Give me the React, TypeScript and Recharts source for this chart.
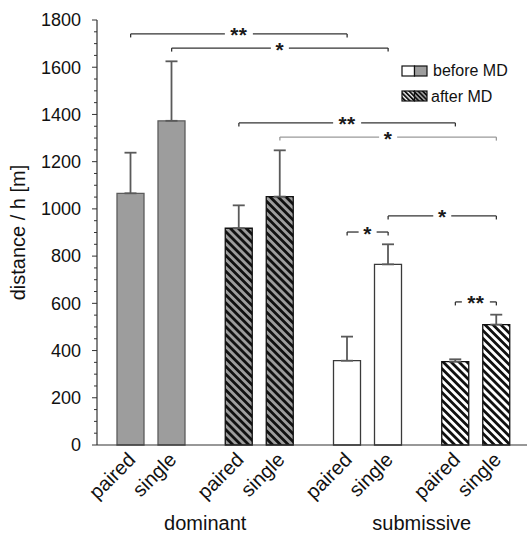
import React from 'react';
import { BarChart, Bar, XAxis, YAxis, Cell, ErrorBar, ReferenceLine, ReferenceDot } from 'recharts';

// ---------- data ----------
const categories = ['dominant / before MD', 'dominant / after MD', 'submissive / before MD', 'submissive / after MD'];
const groupLabels = ['dominant', 'submissive'];
const barLabels = ['paired', 'single'];
const pairedValues = [1066, 918, 357, 353];
const pairedErrors = [172, 97, 102, 10];
const singleValues = [1373, 1052, 765, 510];
const singleErrors = [252, 196, 85, 42];
const legendLabels = ['before MD', 'after MD'];
const yMajorTicks = [0, 200, 400, 600, 800, 1000, 1200, 1400, 1600, 1800];
const yAxisMax = 1800;
const yMinorStep = 50;
const yAxisTitle = 'distance / h [m]';

// significance brackets: [category, bar] -> [category, bar]
const brackets = [
  { from: [0, 'paired'], to: [2, 'paired'], y: 1741, label: '**', light: false },
  { from: [0, 'single'], to: [2, 'single'], y: 1681, label: '*', light: false },
  { from: [1, 'paired'], to: [3, 'paired'], y: 1364, label: '**', light: false },
  { from: [1, 'single'], to: [3, 'single'], y: 1304, label: '*', light: true },
  { from: [2, 'paired'], to: [2, 'single'], y: 902, label: '*', light: false },
  { from: [2, 'single'], to: [3, 'single'], y: 970, label: '*', light: false },
  { from: [3, 'paired'], to: [3, 'single'], y: 606, label: '**', light: false },
];

const data = categories.map((c, i) => ({
  name: c,
  idx: i + 0.5,
  paired: pairedValues[i],
  pairedErr: [0, pairedErrors[i]],
  single: singleValues[i],
  singleErr: [0, singleErrors[i]],
}));

const yTicks: number[] = [];
for (let v = 0; v <= yAxisMax; v += yMinorStep) yTicks.push(v);

// ---------- layout ----------
const W = 530;
const H = 535;
const Y_AXIS_W = 97;
const TOP = 20;
const X_AXIS_H = 90;
const BAR = 27;
const GAP = 14;
const PLOT_W = W - Y_AXIS_W;
const BAND = PLOT_W / categories.length;
const HALF_PITCH = (BAR + GAP) / 2;
const OFF_U = HALF_PITCH / BAND;
const PX_PER_Y = (H - TOP - X_AXIS_H) / yAxisMax;
const FONT = "'Liberation Sans', Arial, sans-serif";
const AXIS_COLOR = '#333';

const fills = ['#9d9d9d', 'url(#hatchGray)', '#ffffff', 'url(#hatchWhite)'];
const strokes = ['#5c5c5c', '#111', '#3a3a3a', '#111'];

const xPos = (cat: number, bar: string) => cat + 0.5 + (bar === 'paired' ? -OFF_U : OFF_U);

const YTick = (props: any) => {
  const { x, y, payload } = props;
  const v = payload.value;
  const major = yMajorTicks.includes(v);
  return (
    <g>
      <line x1={x - (major ? 5 : 3)} x2={x} y1={y} y2={y} stroke={AXIS_COLOR} strokeWidth={1} />
      {major && (
        <text x={x - 16} y={y} dy={6.3} textAnchor="end" fontSize={18} fill="#111" fontFamily={FONT}>
          {v}
        </text>
      )}
    </g>
  );
};

const XTick = (props: any) => {
  const { x, y, index } = props;
  return (
    <g>
      {barLabels.map((lbl, k) => {
        const bx = x + (k === 0 ? -HALF_PITCH : HALF_PITCH) + 6;
        const by = y + 16;
        return (
          <text
            key={k}
            x={bx}
            y={by}
            transform={`rotate(-45 ${bx} ${by})`}
            textAnchor="end"
            fontSize={20}
            fill="#111"
            fontFamily={FONT}
          >
            {lbl}
          </text>
        );
      })}
      {index % 2 === 0 && (
        <text x={x + BAND / 2} y={y + 85} textAnchor="middle" fontSize={20} fill="#111" fontFamily={FONT}>
          {groupLabels[index / 2]}
        </text>
      )}
    </g>
  );
};

const YLabel = (props: any) => {
  const vb = props.viewBox || { x: 0, y: TOP, width: Y_AXIS_W, height: H - TOP - X_AXIS_H };
  const cx = vb.x + 25;
  const cy = vb.y + vb.height / 2;
  return (
    <text x={cx} y={cy} transform={`rotate(-90 ${cx} ${cy})`} textAnchor="middle" fontSize={20} fill="#111" fontFamily={FONT}>
      {yAxisTitle}
    </text>
  );
};

const bracketElements = brackets.flatMap((b, i) => {
  const x1 = xPos(b.from[0] as number, b.from[1] as string);
  const x2 = xPos(b.to[0] as number, b.to[1] as string);
  const mid = (x1 + x2) / 2;
  const halfGap = (b.label.length === 2 ? 14 : 9) / BAND;
  const tick = 3.5 / PX_PER_Y;
  const color = b.light ? '#9a9a9a' : '#333';
  const segs = [
    [[x1, b.y - tick], [x1, b.y]],
    [[x1, b.y], [mid - halfGap, b.y]],
    [[mid + halfGap, b.y], [x2, b.y]],
    [[x2, b.y], [x2, b.y - tick]],
  ];
  const lines = segs.map((s, k) => (
    <ReferenceLine
      key={`b${i}-${k}`}
      xAxisId="pos"
      ifOverflow="visible"
      segment={[{ x: s[0][0], y: s[0][1] }, { x: s[1][0], y: s[1][1] }]}
      stroke={color}
      strokeWidth={1.3}
    />
  ));
  const dot = (
    <ReferenceDot
      key={`bt${i}`}
      xAxisId="pos"
      x={mid}
      y={b.y}
      r={0}
      ifOverflow="visible"
      shape={(p: any) => (
        <text x={p.cx} y={p.cy + 8.5} textAnchor="middle" fontSize={21} fontWeight="bold" fill="#1a1a1a" fontFamily={FONT} letterSpacing={0.5}>
          {b.label}
        </text>
      )}
    />
  );
  return [...lines, dot];
});

const Patterns = () => (
  <svg width={0} height={0} style={{ position: 'absolute' }}>
    <defs>
      <pattern id="hatchGray" width={5.6} height={5.6} patternUnits="userSpaceOnUse" patternTransform="rotate(-45)">
        <rect width={5.6} height={5.6} fill="#9d9d9d" />
        <rect width={2.8} height={5.6} fill="#111" />
      </pattern>
      <pattern id="hatchWhite" width={5.6} height={5.6} patternUnits="userSpaceOnUse" patternTransform="rotate(-45)">
        <rect width={5.6} height={5.6} fill="#fff" />
        <rect width={2.8} height={5.6} fill="#111" />
      </pattern>
      <pattern id="hatchGrayL" width={3.2} height={3.2} patternUnits="userSpaceOnUse" patternTransform="rotate(-45)">
        <rect width={3.2} height={3.2} fill="#9d9d9d" />
        <rect width={1.6} height={3.2} fill="#111" />
      </pattern>
      <pattern id="hatchWhiteL" width={3.2} height={3.2} patternUnits="userSpaceOnUse" patternTransform="rotate(-45)">
        <rect width={3.2} height={3.2} fill="#fff" />
        <rect width={1.9} height={3.2} fill="#111" />
      </pattern>
    </defs>
  </svg>
);

const LegendBox = () => (
  <svg width={130} height={55} style={{ position: 'absolute', left: 397, top: 55 }}>
    <g transform="translate(-397,-55)">
      <rect x={402} y={66} width={12.5} height={10} fill="#fff" stroke="#111" strokeWidth={1.2} />
      <rect x={414.5} y={66} width={12.5} height={10} fill="#9d9d9d" stroke="#111" strokeWidth={1.2} />
      <text x={433} y={76} fontSize={16} fill="#111" fontFamily={FONT}>{legendLabels[0]}</text>
      <rect x={402} y={91} width={12.5} height={10} fill="url(#hatchWhiteL)" stroke="#111" strokeWidth={1.2} />
      <rect x={414.5} y={91} width={12.5} height={10} fill="url(#hatchGrayL)" stroke="#111" strokeWidth={1.2} />
      <text x={431} y={101.5} fontSize={16} fill="#111" fontFamily={FONT}>{legendLabels[1]}</text>
    </g>
  </svg>
);

export default function App() {
  return (
    <div style={{ position: 'absolute', left: 0, top: 0, width: 527, height: H, overflow: 'hidden', background: '#fff' }}>
      <Patterns />
      <BarChart
        width={W}
        height={H}
        data={data}
        margin={{ top: TOP, right: 0, left: 0, bottom: 0 }}
        barGap={GAP}
      >
        <XAxis
          dataKey="name"
          type="category"
          height={X_AXIS_H}
          interval={0}
          tickLine={false}
          tickSize={0}
          tickMargin={0}
          axisLine={{ stroke: AXIS_COLOR, strokeWidth: 1.2 }}
          tick={<XTick />}
        />
        <XAxis xAxisId="pos" dataKey="idx" type="number" domain={[0, categories.length]} allowDataOverflow hide />
        <YAxis
          type="number"
          domain={[0, yAxisMax]}
          ticks={yTicks}
          interval={0}
          width={Y_AXIS_W}
          tickLine={false}
          tickSize={0}
          tickMargin={0}
          axisLine={{ stroke: AXIS_COLOR, strokeWidth: 1.2 }}
          tick={<YTick />}
          label={(p: any) => <YLabel {...p} />}
        />
        <Bar dataKey="paired" barSize={BAR} isAnimationActive={false} strokeWidth={1.3}>
          {data.map((_, i) => (
            <Cell key={i} fill={fills[i]} stroke={strokes[i]} />
          ))}
          <ErrorBar dataKey="pairedErr" width={6} stroke="#5a5a5a" strokeWidth={1.8} isAnimationActive={false} />
        </Bar>
        <Bar dataKey="single" barSize={BAR} isAnimationActive={false} strokeWidth={1.3}>
          {data.map((_, i) => (
            <Cell key={i} fill={fills[i]} stroke={strokes[i]} />
          ))}
          <ErrorBar dataKey="singleErr" width={6} stroke="#5a5a5a" strokeWidth={1.8} isAnimationActive={false} />
        </Bar>
        {bracketElements}
      </BarChart>
      <LegendBox />
    </div>
  );
}
